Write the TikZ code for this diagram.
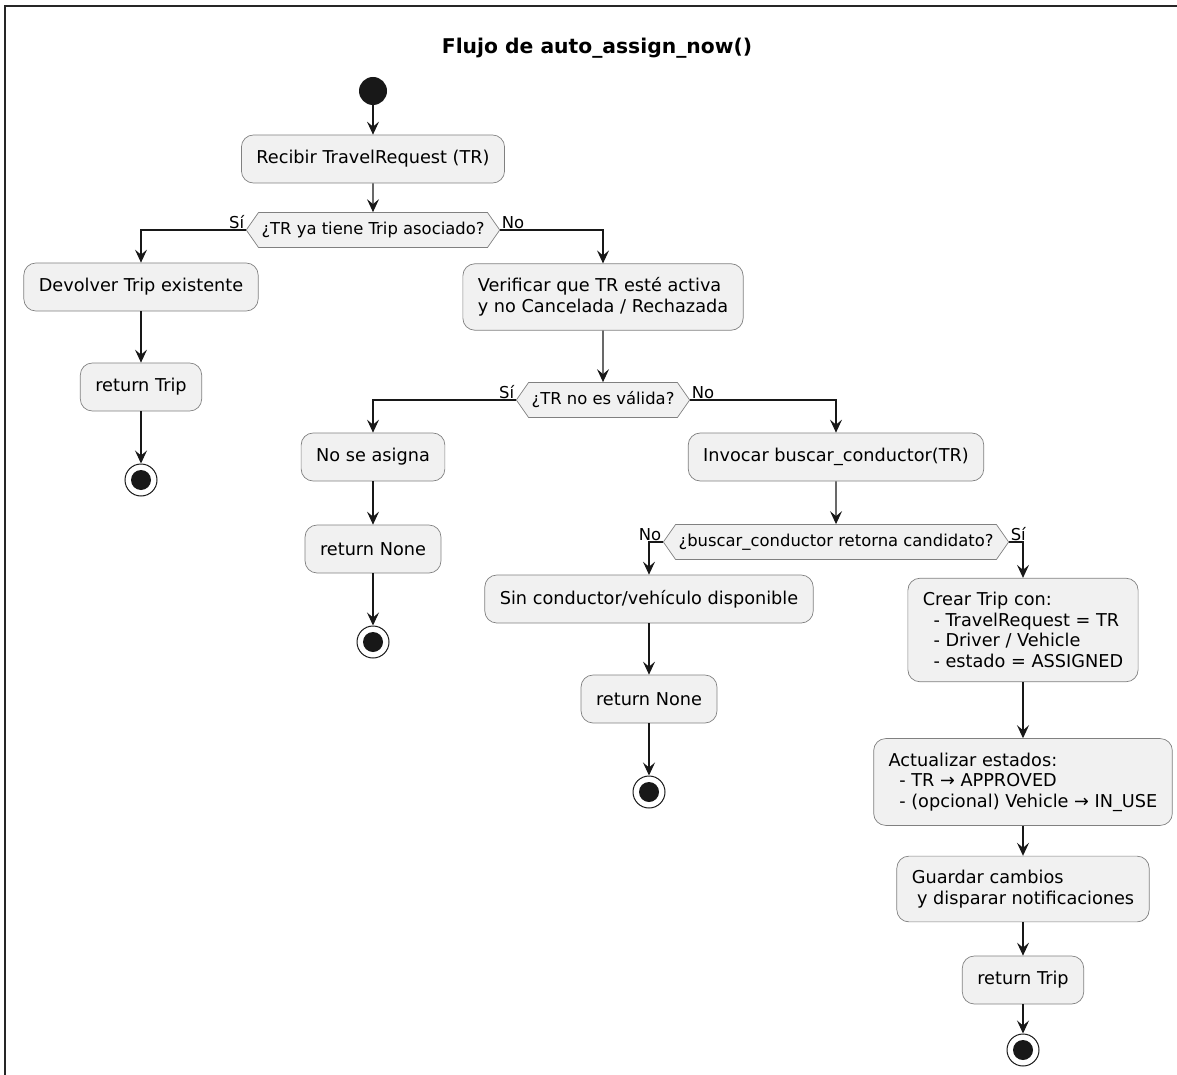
\documentclass[tikz,border=0pt]{standalone}
\usepackage{fontspec}
\setmainfont{DejaVu Sans}
\usetikzlibrary{arrows.meta,shapes.symbols}
\definecolor{actfill}{HTML}{F1F1F1}
\definecolor{actline}{HTML}{181818}
\tikzset{
  action/.style={
    draw=actline!55,
    line width=0.7pt,
    fill=actfill,
    rounded corners=12pt,
    align=left,
    inner xsep=15pt,
    inner ysep=14pt,
    minimum height=48pt,
    font=\fontsize{17.7}{20.6}\selectfont
  },
  choice/.style={
    shape=signal,
    signal to=west and east,
    signal pointer angle=110,
    draw=actline!55,
    line width=0.7pt,
    fill=actfill,
    inner xsep=3pt,
    inner ysep=0pt,
    minimum height=35pt,
    font=\fontsize{16.4}{19}\selectfont
  },
  startdot/.style={
    circle,
    fill=actline,
    minimum size=28pt,
    inner sep=0pt
  },
  stopdot/.style={
    circle,
    draw=actline,
    line width=1pt,
    fill=white,
    minimum size=32pt,
    inner sep=0pt,
    path picture={\fill[actline] (path picture bounding box.center) circle (10pt);}
  },
  flow/.style={
    draw=actline,
    line width=1.1pt,
    -{Stealth[length=13pt,width=12pt,inset=5pt]}
  },
  guard/.style={
    font=\fontsize{16.4}{19}\selectfont,
    inner sep=1.5pt
  }
}

\begin{document}
\begin{tikzpicture}[x=1pt,y=-1pt]
    \useasboundingbox (0,0) rectangle (1177,1075);
    \draw[line width=2pt, black!85] (5,1075) -- (5,6) -- (1177,6);
    \node[font=\fontsize{20.3}{24}\selectfont\bfseries] (title) at (597,48) {Flujo de auto\_assign\_now()};

    % main column
    \node[startdot] (start) at (373,91) {};
    \node[action] (recibir) at (373,159) {Recibir TravelRequest (TR)};
    \node[choice] (d1) at (373,230) {¿TR ya tiene Trip asociado?};

    % existing trip
    \node[action] (devolver) at (141,287) {Devolver Trip existente};
    \node[action] (rettrip1) at (141,387) {return Trip};
    \node[stopdot] (end1) at (141,480) {};

    % validation
    \node[action] (verificar) at (603,297) {Verificar que TR esté activa\\y no Cancelada / Rechazada};
    \node[choice] (d2) at (603,400) {¿TR no es válida?};
    \node[action] (noasigna) at (373,457) {No se asigna};
    \node[action] (retnone1) at (373,549) {return None};
    \node[stopdot] (end2) at (373,642) {};

    % search
    \node[action] (invocar) at (836,457) {Invocar buscar\_conductor(TR)};
    \node[choice] (d3) at (836,542) {¿buscar\_conductor retorna candidato?};
    \node[action] (sincond) at (649,599) {Sin conductor/vehículo disponible};
    \node[action] (retnone2) at (649,699) {return None};
    \node[stopdot] (end3) at (649,792) {};

    % assignment
    \node[action] (crear) at (1023,630) {Crear Trip con:\\\hspace*{0.6em}- TravelRequest = TR\\\hspace*{0.6em}- Driver / Vehicle\\\hspace*{0.6em}- estado = ASSIGNED};
    \node[action] (actualizar) at (1023,782) {Actualizar estados:\\\hspace*{0.6em}- TR → APPROVED\\\hspace*{0.6em}- (opcional) Vehicle → IN\_USE};
    \node[action] (guardar) at (1023,889) {Guardar cambios\\\hspace*{0.3em}y disparar notificaciones};
    \node[action] (rettrip2) at (1023,980) {return Trip};
    \node[stopdot] (end4) at (1023,1050) {};

    \draw[flow] (start) -- (recibir);
    \draw[flow] (recibir) -- (d1);
    \draw[flow] (d1.west) -| (devolver.north);
    \node[guard, anchor=south east] at (d1.west) {Sí};
    \draw[flow] (d1.east) -| (verificar.north);
    \node[guard, anchor=south west] at (d1.east) {No};
    \draw[flow] (devolver) -- (rettrip1);
    \draw[flow] (rettrip1) -- (end1);

    \draw[flow] (verificar) -- (d2);
    \draw[flow] (d2.west) -| (noasigna.north);
    \node[guard, anchor=south east] at (d2.west) {Sí};
    \draw[flow] (d2.east) -| (invocar.north);
    \node[guard, anchor=south west] at (d2.east) {No};
    \draw[flow] (noasigna) -- (retnone1);
    \draw[flow] (retnone1) -- (end2);

    \draw[flow] (invocar) -- (d3);
    \draw[flow] (d3.west) -| (sincond.north);
    \node[guard, anchor=south east] at (d3.west) {No};
    \draw[flow] (d3.east) -| (crear.north);
    \node[guard, anchor=south west] at (d3.east) {Sí};
    \draw[flow] (sincond) -- (retnone2);
    \draw[flow] (retnone2) -- (end3);

    \draw[flow] (crear) -- (actualizar);
    \draw[flow] (actualizar) -- (guardar);
    \draw[flow] (guardar) -- (rettrip2);
    \draw[flow] (rettrip2) -- (end4);
\end{tikzpicture}
\end{document}
